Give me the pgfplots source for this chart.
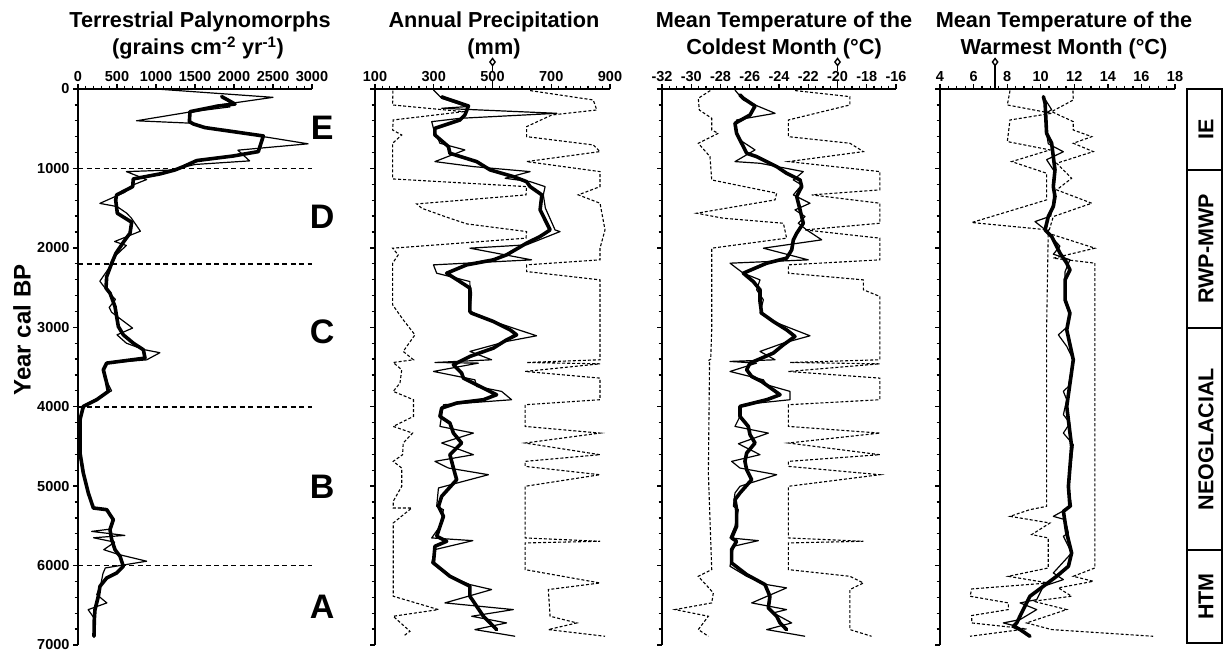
\documentclass[border=0pt]{standalone}
\usepackage{fontspec}
\setmainfont{Liberation Sans}
\usepackage{pgfplots}
\pgfplotsset{compat=1.18}
\begin{document}
\begin{tikzpicture}[x=1pt,y=1pt]
\useasboundingbox (0pt,0pt) rectangle (1223pt,651pt);
\pgfplotsset{
  palstyle/.style={
    scale only axis, width=234pt, height=556pt,
    y dir=reverse, ymin=0, ymax=7000,
    axis x line*=top, axis y line*=left,
    clip=false, scaled ticks=false,
    axis line style={line width=2pt},
    ytick={0,1000,...,7000}, minor y tick num=4,
    tick align=outside,
    major tick length=5pt, minor tick length=3.5pt,
    every tick/.style={black, line width=1.3pt},
    /pgf/number format/1000 sep={},
    /pgf/number format/assume math mode=true,
    ticklabel style={font=\fontsize{14.5}{14.5}\selectfont\bfseries},
    xticklabel style={anchor=base, yshift=3pt},
    anchor=north west,
  },
  thin/.style={black, line width=1.2pt, line join=round},
  thick/.style={black, line width=3.6pt, line join=round, line cap=round},
  errd/.style={black, line width=1.1pt, dash pattern=on 3pt off 2pt},
  zoned/.style={black, line width=1.6pt, dash pattern=on 5pt off 3.5pt},
  modern/.style={black, mark=diamond*, mark size=3.5pt, mark options={fill=white, line width=1.4pt}},
}
% ---------- Panel 1 ----------
\begin{axis}[palstyle, at={(78pt,562pt)}, xmin=0, xmax=3000,
  xtick={0,500,...,3000}, minor x tick num=4]
\addplot[zoned] coordinates {(0,1000) (3000,1000)};
\addplot[zoned] coordinates {(0,2200) (3000,2200)};
\addplot[zoned] coordinates {(0,4000) (3000,4000)};
\addplot[zoned] coordinates {(0,6000) (3000,6000)};
\addplot[thin] coordinates {(1000,0)(2500,105)(1750,210)(1950,225)(1430,290)(750,400)(1440,430)(1620,490)(2000,540)(2950,690)(2050,770)(2200,905)(1500,950)(1200,1020)(620,1040)(880,1140)(700,1210)(600,1300)(280,1440)(500,1480)(620,1560)(680,1620)(800,1790)(470,1920)(620,1970)(480,2100)(400,2250)(280,2420)(390,2560)(480,2650)(400,2750)(430,2810)(700,3010)(500,3095)(620,3200)(840,3280)(1050,3320)(880,3410)(370,3450)(330,3540)(380,3700)(430,3800)(90,3975)(30,4150)(25,4600)(70,4840)(130,5080)(195,5270)(360,5300)(450,5420)(420,5540)(175,5570)(600,5620)(200,5650)(470,5705)(330,5800)(520,5860)(880,5945)(350,6030)(320,6100)(290,6250)(240,6365)(370,6470)(130,6555)(220,6680)(200,6890)};
\addplot[thick] coordinates {(1842,96)(2013,189)(1799,214)(1436,285)(1428,411)(1479,440)(1628,486)(1992,537)(2376,591)(2312,788)(1992,843)(1522,901)(1351,977)(1244,1019)(1051,1069)(709,1132)(701,1229)(496,1333)(483,1396)(504,1564)(688,1677)(667,1815)(603,1899)(487,2067)(432,2193)(368,2361)(359,2507)(410,2570)(474,2738)(517,2990)(581,3095)(709,3200)(838,3283)(859,3388)(368,3451)(325,3535)(368,3703)(389,3807)(239,3912)(68,3996)(26,4164)(26,4583)(68,4835)(132,5086)(197,5275)(368,5296)(453,5422)(410,5548)(432,5673)(474,5799)(539,5883)(581,6009)(496,6093)(368,6156)(282,6260)(261,6386)(218,6554)(209,6680)(205,6890)};
\node[font=\fontsize{34}{34}\selectfont\bfseries] at (axis cs:3130,483) {E};
\node[font=\fontsize{34}{34}\selectfont\bfseries] at (axis cs:3130,1613) {D};
\node[font=\fontsize{34}{34}\selectfont\bfseries] at (axis cs:3130,3060) {C};
\node[font=\fontsize{34}{34}\selectfont\bfseries] at (axis cs:3130,5010) {B};
\node[font=\fontsize{34}{34}\selectfont\bfseries] at (axis cs:3130,6520) {A};
\end{axis}
% ---------- Panel 2 ----------
\begin{axis}[palstyle, at={(375pt,562pt)}, width=235pt, xmin=100, xmax=900,
  xtick={100,300,...,900}, minor x tick num=7, yticklabels={}]
\addplot[errd] coordinates {(161,20)(160,201)(401,285)(162,390)(160,516)(191,579)(160,683)(160,1132)(616,1229)(614,1333)(242,1447)(259,1501)(338,1606)(412,1698)(616,1795)(614,1878)(160,2004)(179,2088)(160,2193)(160,2717)(196,2906)(236,3095)(196,3304)(231,3409)(162,3443)(191,3535)(185,3703)(162,3807)(231,3912)(231,4122)(162,4248)(228,4332)(196,4457)(194,4604)(162,4688)(191,4772)(191,5002)(162,5191)(162,5275)(225,5275)(162,5464)(162,6386)(316,6554)(162,6638)(219,6827)(196,6890)};
\addplot[errd] coordinates {(628,20)(843,138)(855,264)(702,327)(616,474)(616,600)(843,704)(866,788)(616,914)(866,1040)(866,1229)(792,1333)(866,1438)(883,1774)(866,2004)(866,2151)(616,2214)(616,2298)(866,2403)(866,3409)(616,3443)(866,3460)(611,3556)(866,3640)(866,3912)(611,3975)(611,4248)(866,4332)(611,4457)(866,4604)(611,4688)(611,4751)(866,4856)(611,5002)(611,5652)(866,5694)(611,5715)(611,6051)(866,6219)(690,6302)(696,6638)(787,6722)(690,6806)(883,6890)};
\addplot[thin] coordinates {(299,13)(327,117)(412,222)(327,243)(719,306)(389,369)(293,411)(299,495)(321,683)(406,767)(304,914)(435,977)(628,1040)(543,1124)(628,1166)(679,1229)(673,1333)(680,1500)(713,1774)(730,1795)(616,1962)(423,2004)(633,2151)(299,2214)(310,2319)(423,2424)(423,2465)(429,2570)(423,2801)(503,2927)(650,3107)(548,3178)(423,3304)(497,3409)(304,3443)(452,3451)(299,3556)(440,3661)(446,3745)(531,3807)(565,3912)(333,3975)(321,4248)(435,4332)(327,4457)(435,4604)(304,4688)(350,4772)(486,4856)(316,5023)(310,5254)(333,5296)(321,5506)(293,5652)(433,5686)(304,5799)(293,5967)(355,6135)(423,6239)(497,6302)(338,6470)(571,6554)(429,6638)(548,6722)(440,6806)(577,6890)};
\addplot[thick] coordinates {(327,100)(418,214)(406,327)(389,390)(304,495)(304,579)(350,725)(355,809)(446,914)(492,1019)(571,1103)(616,1166)(628,1229)(668,1333)(662,1522)(696,1774)(662,1857)(616,1941)(548,2088)(503,2151)(412,2214)(344,2319)(389,2424)(423,2507)(423,2801)(429,2822)(503,2927)(560,3032)(582,3095)(548,3158)(503,3262)(423,3367)(367,3472)(395,3577)(401,3640)(446,3724)(514,3849)(469,3912)(378,3954)(327,4017)(321,4122)(355,4206)(367,4332)(395,4457)(355,4604)(367,4772)(378,4919)(327,5128)(316,5254)(333,5380)(310,5631)(344,5694)(304,5757)(299,5967)(355,6135)(423,6260)(423,6386)(446,6512)(469,6638)(492,6722)(514,6806)};
\addplot[black, line width=1.4pt] coordinates {(500,0)(500,-100)};
\addplot[black, line width=1.4pt] coordinates {(500,-230)(500,-300)};
\addplot[modern] coordinates {(500,-340)};
\end{axis}
% ---------- Panel 3 ----------
\begin{axis}[palstyle, at={(662pt,562pt)}, xmin=-32, xmax=-16,
  xtick={-32,-30,...,-16}, minor x tick num=3, yticklabels={}]
\addplot[errd] coordinates {(-28.7,20)(-29.52,117)(-29.45,264)(-28.6,369)(-28.6,516)(-28.15,558)(-29.52,683)(-28.72,851)(-28.6,1145)(-24.16,1312)(-24.27,1396)(-29.63,1564)(-27.81,1627)(-23.7,1690)(-23.48,1878)(-28.6,2004)(-28.6,3032)(-28.67,3400)(-28.83,3420)(-28.75,3450)(-28.83,4835)(-28.6,6051)(-29.52,6135)(-28.49,6344)(-28.6,6470)(-31.11,6554)(-28.83,6638)(-29.52,6806)(-28.83,6890)};
\addplot[errd] coordinates {(-22.9,20)(-19.15,96)(-19.15,201)(-23.36,390)(-23.36,600)(-19.15,683)(-18.23,788)(-23.36,914)(-17.1,1040)(-17.1,1270)(-21.77,1333)(-17.1,1438)(-17.1,1690)(-22.22,1774)(-17.1,1878)(-17.1,2151)(-23.36,2214)(-23.36,2319)(-18.23,2403)(-18.23,2528)(-17.1,2612)(-17.1,3409)(-23.25,3443)(-17.1,3460)(-23.36,3556)(-17.1,3640)(-17.1,3912)(-23.36,3975)(-23.36,4248)(-17.1,4332)(-23.36,4457)(-17.1,4604)(-23.36,4688)(-23.36,4751)(-17.1,4856)(-23.36,5002)(-23.36,5652)(-18.23,5694)(-23.36,5715)(-23.36,6051)(-19.15,6135)(-18.23,6219)(-19.15,6302)(-19.15,6806)(-17.67,6890)};
\addplot[thin] coordinates {(-27.01,13)(-26.44,138)(-25.64,201)(-24.27,306)(-26.9,390)(-27.01,495)(-26.67,642)(-25.64,767)(-27.01,914)(-25.3,935)(-22.34,1040)(-23.02,1145)(-22.45,1208)(-23.02,1333)(-21.88,1438)(-22.91,1522)(-22.22,1606)(-22.68,1690)(-22.11,1774)(-21.08,1899)(-25.07,2004)(-22.0,2151)(-27.35,2193)(-26.44,2319)(-25.3,2403)(-25.53,2528)(-25.07,2654)(-25.3,2822)(-24.39,2927)(-21.88,3107)(-23.7,3199)(-25.3,3304)(-24.27,3409)(-27.35,3430)(-25.53,3451)(-27.35,3556)(-25.07,3661)(-24.84,3724)(-23.25,3807)(-23.25,3912)(-26.55,3975)(-26.67,4122)(-27.01,4248)(-24.73,4332)(-26.78,4466)(-25.3,4604)(-27.24,4688)(-26.67,4772)(-24.16,4856)(-26.67,5002)(-27.01,5086)(-27.12,5254)(-26.78,5296)(-27.01,5506)(-27.35,5652)(-25.41,5686)(-27.12,5757)(-27.35,6009)(-26.21,6135)(-24.84,6239)(-23.48,6281)(-25.87,6470)(-23.48,6554)(-24.39,6596)(-23.13,6722)(-24.84,6806)(-22.22,6890)};
\addplot[thick] coordinates {(-26.67,75)(-26.44,117)(-25.64,214)(-25.98,327)(-27.01,432)(-26.9,558)(-26.44,725)(-26.21,809)(-25.53,851)(-24.16,977)(-23.48,1061)(-22.56,1145)(-22.45,1229)(-22.79,1354)(-22.56,1522)(-22.34,1690)(-22.79,1816)(-23.02,1899)(-23.13,2025)(-23.48,2130)(-24.84,2193)(-26.44,2319)(-25.76,2424)(-25.3,2528)(-25.3,2675)(-25.19,2822)(-24.39,2927)(-23.48,3032)(-22.91,3116)(-23.7,3220)(-24.39,3325)(-25.98,3451)(-26.21,3535)(-25.87,3619)(-25.19,3682)(-23.93,3849)(-24.84,3912)(-26.67,3996)(-26.67,4122)(-26.1,4248)(-25.98,4353)(-25.64,4457)(-26.21,4583)(-26.33,4688)(-26.21,4793)(-25.87,4919)(-26.67,5086)(-27.01,5170)(-26.9,5296)(-26.9,5506)(-27.24,5652)(-26.9,5694)(-27.24,5799)(-27.24,5967)(-26.21,6114)(-24.96,6239)(-24.62,6386)(-24.73,6533)(-24.16,6638)(-23.93,6722)(-23.48,6806)};
\addplot[black, line width=1.4pt] coordinates {(-20,0)(-20,-100)};
\addplot[black, line width=1.4pt] coordinates {(-20,-230)(-20,-300)};
\addplot[modern] coordinates {(-20,-340)};
\end{axis}
% ---------- Panel 4 ----------
\begin{axis}[palstyle, at={(940pt,562pt)}, width=235pt, xmin=4, xmax=18,
  xtick={4,6,...,18}, minor x tick num=3, yticklabels={}]
\addplot[errd] coordinates {(8.17,20)(8.01,201)(10.65,306)(8.17,390)(8.01,662)(10.55,767)(8.27,914)(10.35,1061)(10.35,1396)(5.89,1681)(10.45,1774)(10.35,3032)(10.35,5254)(9.36,5296)(8.17,5380)(10.55,5464)(9.46,5610)(10.45,5652)(10.45,6030)(8.07,6135)(10.45,6219)(5.89,6294)(5.79,6386)(8.07,6470)(8.07,6554)(5.89,6629)(5.89,6722)(9.16,6797)(5.79,6890)};
\addplot[errd] coordinates {(11.92,20)(11.94,138)(10.65,285)(11.94,411)(11.94,516)(13.04,600)(11.94,683)(13.13,788)(10.95,935)(11.84,1124)(10.95,1270)(13.04,1438)(10.75,1606)(10.45,1816)(13.23,2004)(10.75,2130)(13.23,2193)(13.23,6030)(11.94,6135)(13.13,6198)(11.05,6281)(11.84,6386)(9.56,6449)(11.55,6554)(9.16,6722)(10.65,6806)(16.7,6890)};
\addplot[thin] coordinates {(10.16,96)(10.65,260)(10.35,300)(10.35,558)(10.45,690)(11.35,790)(10.35,890)(10.85,1050)(10.75,1400)(10.6,1600)(9.66,1669)(10.26,1770)(10.8,1900)(11.15,1980)(10.75,2080)(11.74,2150)(11.45,2300)(11.45,2650)(11.74,2820)(11.55,3000)(11.05,3095)(11.55,3240)(11.94,3409)(11.65,3745)(11.35,3807)(11.55,3912)(11.35,4100)(11.74,4206)(11.35,4332)(11.94,4478)(11.65,5002)(11.84,5254)(10.75,5380)(11.45,5422)(11.65,5590)(11.35,5631)(11.84,5841)(10.75,6093)(11.35,6177)(10.16,6260)(9.76,6428)(8.77,6470)(9.76,6554)(8.77,6680)(7.77,6722)(8.57,6764)(9.36,6890)};
\addplot[thick] coordinates {(10.16,96)(10.26,180)(10.35,558)(10.65,683)(10.75,851)(10.85,1019)(10.75,1229)(10.85,1354)(10.75,1480)(10.45,1606)(10.26,1774)(10.65,1857)(11.15,2067)(11.55,2193)(11.74,2277)(11.45,2403)(11.45,2654)(11.74,2822)(11.55,3032)(11.94,3409)(11.55,3996)(11.84,4499)(11.65,5002)(11.74,5254)(11.35,5317)(11.55,5590)(11.84,5841)(11.65,6009)(10.95,6135)(10.16,6260)(9.36,6386)(8.96,6554)(8.57,6722)(8.37,6764)(8.77,6806)(9.36,6890)};
\addplot[black, line width=2pt] coordinates {(7.28,0)(7.28,-300)};
\addplot[modern] coordinates {(7.28,-340)};
\end{axis}
% ---------- Titles ----------
\begin{scope}[every node/.style={font=\fontsize{21.7}{27}\selectfont\bfseries, anchor=base}]
\node at (200pt,623pt) {Terrestrial Palynomorphs};
\node at (198pt,596pt) {(grains cm\textsuperscript{-2} yr\textsuperscript{-1})};
\node at (494pt,623pt) {Annual Precipitation};
\node at (494pt,596pt) {(mm)};
\node at (784pt,623pt) {Mean Temperature of the};
\node at (784pt,596pt) {Coldest Month (°C)};
\node at (1064pt,623pt) {Mean Temperature of the};
\node at (1064pt,596pt) {Warmest Month (°C)};
\end{scope}
\node[font=\fontsize{24}{24}\selectfont\bfseries, rotate=90] at (22pt,321pt) {Year cal BP};
% ---------- Zone box ----------
\draw[line width=2pt] (1187pt,562pt) rectangle (1222pt,8pt);
\draw[line width=2pt] (1187pt,481pt) -- (1222pt,481pt);
\draw[line width=2pt] (1187pt,323pt) -- (1222pt,323pt);
\draw[line width=2pt] (1187pt,101pt) -- (1222pt,101pt);
\begin{scope}[every node/.style={font=\fontsize{21.5}{21.5}\selectfont\bfseries, rotate=90}]
\node at (1206pt,521.5pt) {IE};
\node at (1206pt,402pt) {RWP-MWP};
\node at (1206pt,212pt) {NEOGLACIAL};
\node at (1206pt,54.5pt) {HTM};
\end{scope}
\end{tikzpicture}
\end{document}
